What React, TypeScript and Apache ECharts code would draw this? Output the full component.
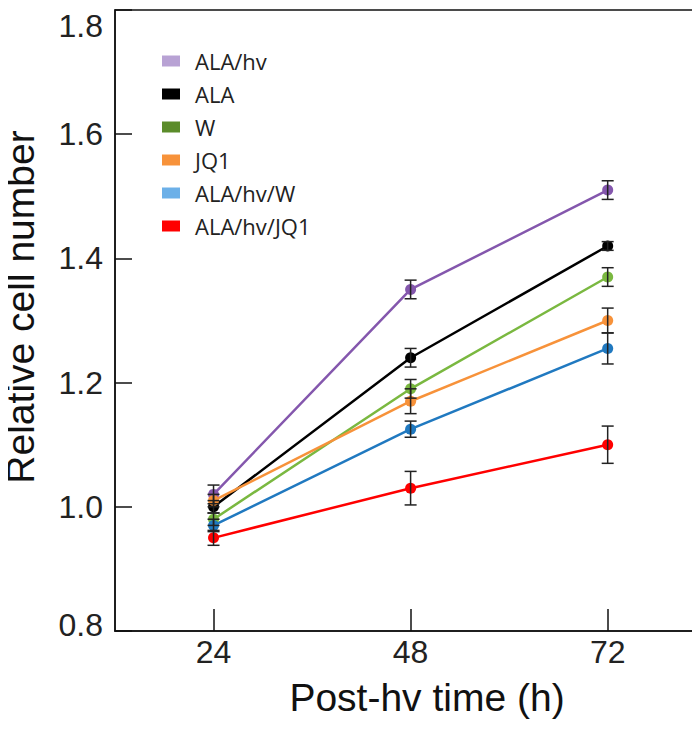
import React, { useEffect, useRef } from "react";
import * as echarts from "echarts";

const times = [24, 48, 72];
const seriesNames = ["ALA/hv", "ALA", "W", "JQ1", "ALA/hv/W", "ALA/hv/JQ1"];
const alaHv = [1.02, 1.35, 1.51];
const alaHvErr = [0.015, 0.015, 0.015];
const ala = [1.0, 1.24, 1.42];
const alaErr = [0.01, 0.015, 0.007];
const w = [0.98, 1.19, 1.37];
const wErr = [0.01, 0.015, 0.015];
const jq1 = [1.01, 1.17, 1.3];
const jq1Err = [0.01, 0.02, 0.02];
const alaHvW = [0.97, 1.125, 1.255];
const alaHvWErr = [0.01, 0.013, 0.025];
const alaHvJq1 = [0.95, 1.03, 1.1];
const alaHvJq1Err = [0.012, 0.027, 0.03];

const lineColors = ["#8457ad", "#000000", "#7ab840", "#f7923a", "#2079c0", "#ff0000"];
const legendColors = ["#b8a2d4", "#000000", "#5b8c2a", "#f7923a", "#6cb0e8", "#ff0000"];

export default function App() {
  const ref = useRef<HTMLDivElement>(null);
  useEffect(() => {
    const chart = echarts.init(ref.current!, null, { renderer: "svg" });
    const values = [alaHv, ala, w, jq1, alaHvW, alaHvJq1];
    const errs = [alaHvErr, alaErr, wErr, jq1Err, alaHvWErr, alaHvJq1Err];
    const font = "Liberation Sans, Arial, sans-serif";

    const lineSeries = seriesNames.map((name, i) => ({
      name,
      type: "line",
      data: times.map((t, j) => [t, values[i][j]]),
      symbol: "circle",
      symbolSize: 11,
      lineStyle: { color: lineColors[i], width: 2.5 },
      itemStyle: { color: lineColors[i] },
      z: 3,
    }));

    const errData: number[][] = [];
    values.forEach((v, i) =>
      v.forEach((val, j) => errData.push([times[j], val - errs[i][j], val + errs[i][j]]))
    );

    const errSeries = {
      type: "custom",
      name: "err",
      data: errData,
      z: 4,
      renderItem: (_params: any, api: any) => {
        const x = api.value(0);
        const lo = api.coord([x, api.value(1)]);
        const hi = api.coord([x, api.value(2)]);
        const hw = 6;
        const style = { stroke: "#222", lineWidth: 1.5 };
        return {
          type: "group",
          children: [
            { type: "line", shape: { x1: lo[0], y1: lo[1], x2: hi[0], y2: hi[1] }, style },
            { type: "line", shape: { x1: lo[0] - hw, y1: lo[1], x2: lo[0] + hw, y2: lo[1] }, style },
            { type: "line", shape: { x1: hi[0] - hw, y1: hi[1], x2: hi[0] + hw, y2: hi[1] }, style },
          ],
        };
      },
    };

    chart.setOption({
      animation: false,
      backgroundColor: "#ffffff",
      grid: {
        left: 115,
        right: 2,
        top: 10,
        bottom: 103,
        show: true,
        borderColor: "#111",
        borderWidth: 1.5,
        containLabel: false,
      },
      legend: {
        orient: "vertical",
        left: 157,
        top: 45,
        itemWidth: 18,
        itemHeight: 11,
        itemGap: 11,
        icon: "rect",
        textStyle: {
          fontFamily: "Open Sans, Noto Sans, sans-serif",
          fontSize: 22,
          color: "#222",
          padding: [0, 0, 0, 10],
        },
        data: seriesNames.map((n, i) => ({
          name: n,
          itemStyle: { color: legendColors[i] },
        })),
      },
      xAxis: {
        type: "value",
        min: 12,
        max: 83,
        axisLine: { show: true, onZero: false, lineStyle: { color: "#111", width: 1.5 } },
        axisTick: {
          show: true,
          inside: true,
          length: 22,
          customValues: times,
          lineStyle: { color: "#111", width: 1.5 },
        },
        axisLabel: {
          customValues: times,
          fontFamily: font,
          fontSize: 32,
          color: "#222",
          margin: 5,
        },
        splitLine: { show: false },
      },
      yAxis: {
        type: "value",
        min: 0.8,
        max: 1.8,
        interval: 0.2,
        axisLine: { show: true, lineStyle: { color: "#111", width: 1.5 } },
        axisTick: { show: true, inside: true, length: 17, lineStyle: { color: "#111", width: 1.5 } },
        axisLabel: {
          fontFamily: font,
          fontSize: 32,
          color: "#222",
          margin: 12,
          verticalAlignMaxLabel: "top",
          formatter: (v: number) => {
            const s = v.toFixed(1);
            if (Math.abs(v - 0.8) < 1e-6) return "{bot|" + s + "}";
            return s;
          },
          rich: {
            bot: { fontFamily: font, fontSize: 32, color: "#222", lineHeight: 44, verticalAlign: "top" },
          },
        },
        splitLine: { show: false },
      },
      graphic: [
        {
          type: "text",
          x: 20,
          y: 307,
          rotation: Math.PI / 2,
          style: {
            text: "Relative cell number",
            fontFamily: font,
            fontSize: 39,
            fill: "#111",
            align: "center",
            verticalAlign: "middle",
          },
        },
        {
          type: "text",
          x: 427,
          y: 697,
          style: {
            text: "Post-hv time (h)",
            fontFamily: font,
            fontSize: 39,
            fill: "#111",
            align: "center",
            verticalAlign: "middle",
          },
        },
      ],
      series: [...lineSeries, errSeries],
    });
    return () => chart.dispose();
  }, []);
  return <div ref={ref} style={{ width: 700, height: 734, margin: -8 }} />;
}
